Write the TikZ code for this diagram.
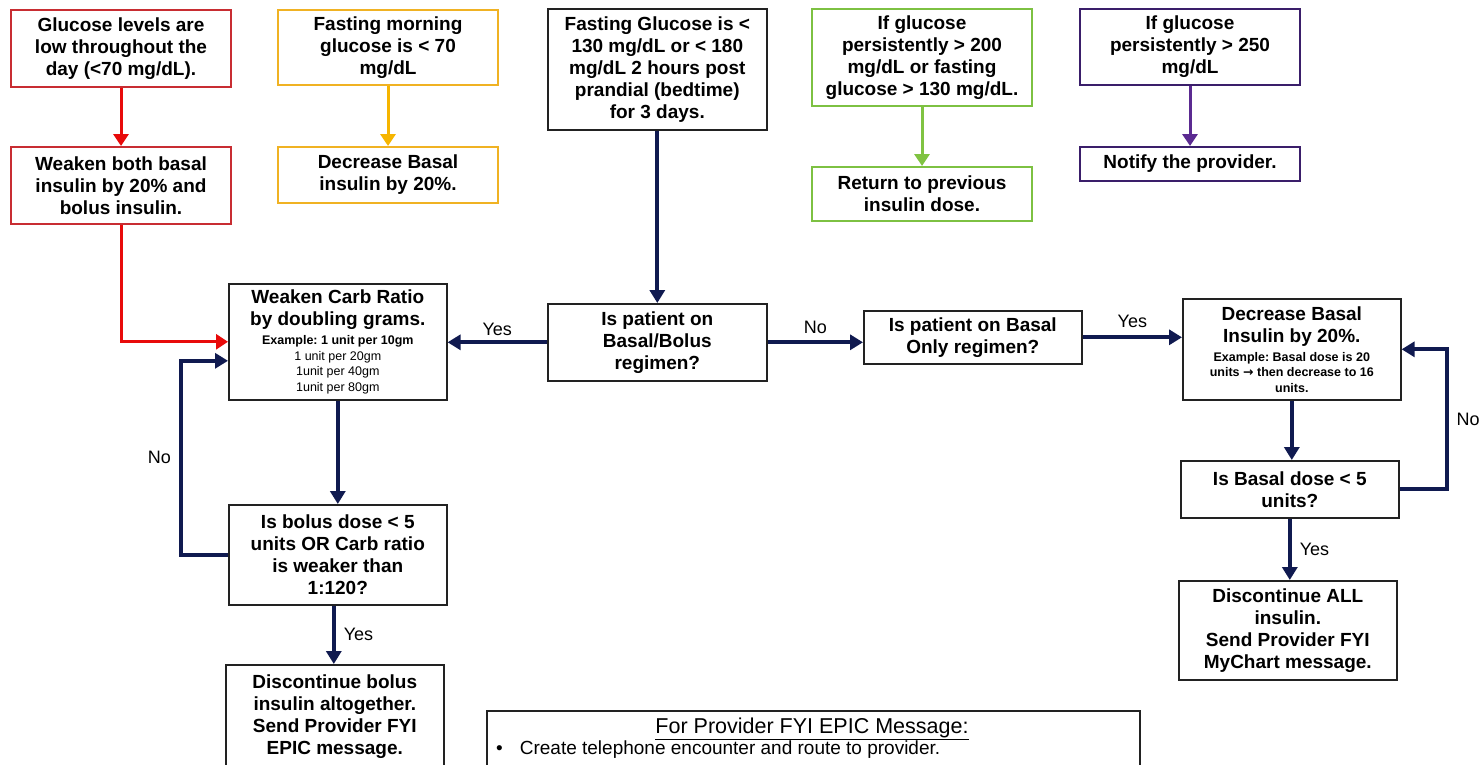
\documentclass[tikz,border=0pt]{standalone}
\usepackage{fontspec}
\setmainfont{Liberation Sans}
\newfontfamily\arrowfont{DejaVu Sans}
\usetikzlibrary{arrows.meta,calc}
\frenchspacing

\definecolor{navy}{RGB}{16,26,80}
\definecolor{redline}{RGB}{200,45,50}
\definecolor{redarr}{RGB}{232,10,10}
\definecolor{goldline}{RGB}{240,178,35}
\definecolor{goldarr}{RGB}{246,181,0}
\definecolor{greenline}{RGB}{125,193,66}
\definecolor{greenarr}{RGB}{128,195,66}
\definecolor{purpline}{RGB}{58,30,106}
\definecolor{purparr}{RGB}{91,42,145}
\definecolor{boxline}{RGB}{34,34,34}

\newcommand{\bigbold}{\fontsize{19}{22}\selectfont\bfseries\frenchspacing}
\newcommand{\smallex}{\fontsize{12.5}{15.5}\selectfont}
\newcommand{\lbl}{\fontsize{18}{21}\selectfont}

\tikzset{
  box/.style={draw=boxline, line width=1.6pt, inner sep=0pt, anchor=north west,
              align=center, font=\bigbold, fill=white},
  redbox/.style={box, draw=redline, line width=2pt},
  goldbox/.style={box, draw=goldline, line width=2pt},
  greenbox/.style={box, draw=greenline, line width=2pt},
  purpbox/.style={box, draw=purpline, line width=2pt},
  flow/.style={line width=4pt, draw=navy, -{Triangle[length=13pt,width=15pt]}},
  redflow/.style={line width=3pt, draw=redarr, -{Triangle[length=12pt,width=15pt]}},
  goldflow/.style={line width=3pt, draw=goldarr, -{Triangle[length=12pt,width=15pt]}},
  greenflow/.style={line width=3pt, draw=greenarr, -{Triangle[length=12pt,width=15pt]}},
  purpflow/.style={line width=3pt, draw=purparr, -{Triangle[length=12pt,width=15pt]}},
  lab/.style={font=\lbl, text=black, inner sep=2pt}
}

\begin{document}
\begin{tikzpicture}[x=1pt, y=-1pt]
\useasboundingbox (0,0) rectangle (1483,764);

% top row of condition boxes
\node[redbox, minimum width=220pt, minimum height=77pt] (low) at (10,9)
  {Glucose levels are\\low throughout the\\day (<70 mg/dL).};
\node[redbox, minimum width=220pt, minimum height=77pt] (weakboth) at (10,146)
  {Weaken both basal\\insulin by 20\% and\\bolus insulin.};

\node[goldbox, minimum width=220pt, minimum height=75pt] (fastlow) at (277,9)
  {Fasting morning\\glucose is < 70\\mg/dL};
\node[goldbox, minimum width=220pt, minimum height=56pt] (decb) at (277,146)
  {Decrease Basal\\insulin by 20\%.};

\node[box, minimum width=219pt, minimum height=121pt] (fast) at (547,8)
  {Fasting Glucose is <\\130 mg/dL or < 180\\mg/dL 2 hours post\\prandial (bedtime)\\for 3 days.};

\node[greenbox, minimum width=220pt, minimum height=97pt] (high200) at (811,8)
  {If glucose\\persistently > 200\\mg/dL or fasting\\glucose > 130 mg/dL.};
\node[greenbox, minimum width=220pt, minimum height=54pt] (ret) at (811,166)
  {Return to previous\\insulin dose.};

\node[purpbox, minimum width=220pt, minimum height=76pt] (high250) at (1079,8)
  {If glucose\\persistently > 250\\mg/dL};
\node[purpbox, minimum width=220pt, minimum height=34pt] (notify) at (1079,146)
  {Notify the provider.};

% main decision row
\node[box, minimum width=218pt, minimum height=116pt] (carb) at (228,283)
  {Weaken Carb Ratio\\by doubling grams.\\[-3pt]
   {\smallex Example: 1 unit per 10gm}\\[-6.5pt]
   {\smallex\mdseries 1 unit per 20gm}\\[-6.5pt]
   {\smallex\mdseries 1unit per 40gm}\\[-6.5pt]
   {\smallex\mdseries 1unit per 80gm}};

\node[box, minimum width=219pt, minimum height=77pt] (regimen) at (547,303)
  {Is patient on\\Basal/Bolus\\regimen?};

\node[box, minimum width=218pt, minimum height=53pt] (basonly) at (863,310)
  {Is patient on Basal\\Only regimen?};

\node[box, minimum width=218pt, minimum height=101pt] (decbasal) at (1182,298)
  {Decrease Basal\\Insulin by 20\%.\\[-3pt]
   {\smallex Example: Basal dose is 20}\\[-6.5pt]
   {\smallex units {\arrowfont\bfseries →} then decrease to 16}\\[-6.5pt]
   {\smallex units.}};

\node[box, minimum width=218pt, minimum height=100pt] (bolus) at (228,504)
  {Is bolus dose < 5\\units OR Carb ratio\\is weaker than\\1:120?};

\node[box, minimum width=218pt, minimum height=104pt] (stopbolus) at (225,664)
  {Discontinue bolus\\insulin altogether.\\Send Provider FYI\\EPIC message.};

\node[box, minimum width=218pt, minimum height=57pt] (basdose) at (1180,460)
  {Is Basal dose < 5\\units?};

\node[box, minimum width=218pt, minimum height=99pt] (stopall) at (1178,580)
  {Discontinue ALL\\insulin.\\Send Provider FYI\\MyChart message.};

% note box at the foot
\node[draw=boxline, line width=1.6pt, anchor=north west, minimum width=653pt,
      minimum height=70pt, inner sep=0pt] (note) at (486,710) {};
\node[font=\fontsize{21.5}{24}\selectfont, anchor=base, inner sep=0pt] (notetitle) at (812,733)
  {\underline{For Provider FYI EPIC Message:}};
\node[font=\fontsize{19}{22}\selectfont, anchor=base west, inner sep=0pt] (notebullet) at (496,754)
  {\textbullet\hspace{17pt}Create telephone encounter and route to provider.};

% coloured side arrows
\draw[redflow] (low.south) -- (weakboth.north);
\draw[redflow] (weakboth.south) |- (carb.west);
\draw[goldflow] (fastlow.south) -- (decb.north);
\draw[greenflow] (high200.south) -- (ret.north);
\draw[purpflow] (high250.south) -- (notify.north);

% main flow
\draw[flow] (fast.south) -- (regimen.north);
\draw[flow] (regimen.west) -- (regimen.west -| carb.east)
  node[lab, midway, above=3pt] {Yes};
\draw[flow] (regimen.east) -- (regimen.east -| basonly.west)
  node[lab, midway, above=5pt] {No};
\draw[flow] (basonly.east) -- (basonly.east -| decbasal.west)
  node[lab, midway, above=6pt] {Yes};
\draw[flow] (decbasal.south) -- (decbasal.south |- basdose.north);
\draw[flow] (basdose.east) -- ++(47,0) coordinate (loopr) |- (decbasal.east)
  node[lab, pos=0.25, right=6pt] {No};
\draw[flow] (basdose.south) -- (basdose.south |- stopall.north)
  node[lab, midway, right=6pt] {Yes};
\draw[flow] (carb.south) -- (carb.south |- bolus.north);
\draw[flow] (bolus.west) -- ++(-47,0) coordinate (loopl) |- ([yshift=-19pt]carb.west)
  node[lab, pos=0.25, left=6pt] {No};
\draw[flow] ([xshift=-4pt]bolus.south) -- ([xshift=-4pt]bolus.south |- stopbolus.north)
  node[lab, midway, right=6pt] {Yes};
\end{tikzpicture}
\end{document}
